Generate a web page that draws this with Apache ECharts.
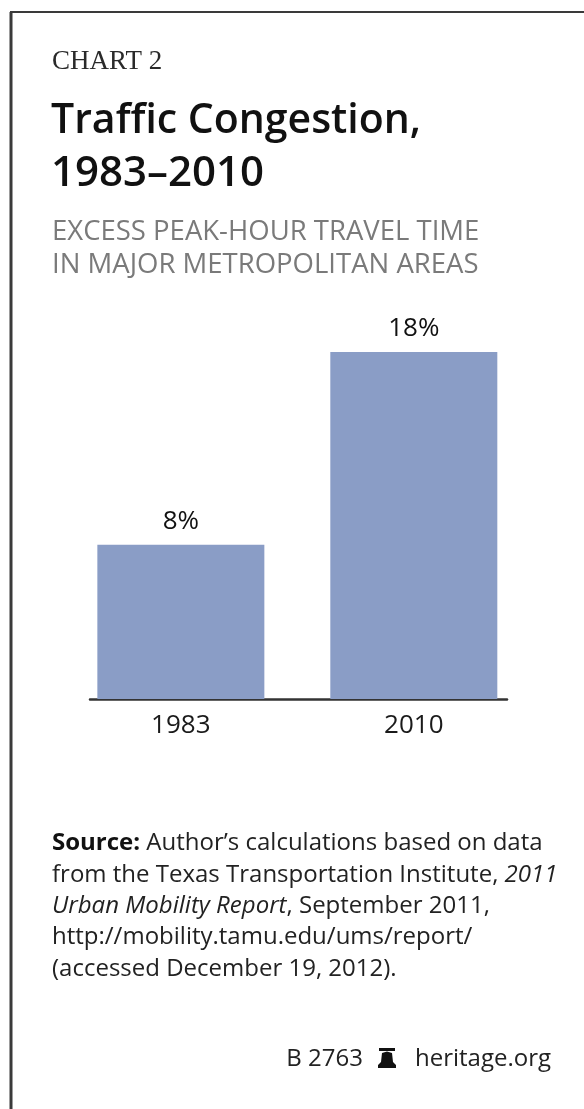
<!DOCTYPE html>
<html>
<head>
<meta charset="utf-8">
<title>Traffic Congestion, 1983–2010</title>
<script src="https://cdn.jsdelivr.net/npm/echarts@6/dist/echarts.min.js"></script>
<style>
  html, body { margin: 0; padding: 0; background: #ffffff; }
  #chart { width: 584px; height: 1109px; }
</style>
</head>
<body>
<div id="chart"></div>
<script>
// Excess peak-hour travel time, share of free-flow time
const categories = ['1983', '2010'];
const values = [8, 18];
const valueLabels = ['8%', '18%'];

const SANS = '"Open Sans", "Noto Sans", sans-serif';
const SERIF = '"Liberation Serif", "DejaVu Serif", serif';

// bars sit on a value axis at positions 0, 1 so the baseline can run a little past them
const barData = values.map((v, i) => [i, v]);

const chart = echarts.init(document.getElementById('chart'), null, { renderer: 'canvas' });

const sourceText =
  '{b|Source:} Author’s calculations based on data\n' +
  'from the Texas Transportation Institute, {i|2011}\n' +
  '{i|Urban Mobility Report}, September 2011,\n' +
  'http://mobility.tamu.edu/ums/report/\n' +
  '(accessed December 19, 2012).';

chart.setOption({
  backgroundColor: '#ffffff',
  animation: false,
  grid: { left: 90, right: 77, top: 352, bottom: 410, containLabel: false },
  xAxis: {
    type: 'value',
    min: -0.39,
    max: 1.40,
    splitLine: { show: false },
    axisTick: { show: false },
    axisLine: { show: true, onZero: true, lineStyle: { color: '#333333', width: 2.5 } },
    axisLabel: {
      customValues: [0, 1],
      formatter: v => categories[Math.round(v)] || '',
      fontFamily: SANS,
      fontSize: 26,
      color: '#1a1a1a',
      margin: 14
    }
  },
  yAxis: {
    type: 'value',
    min: 0,
    max: 18,
    show: false,
    splitLine: { show: false }
  },
  series: [{
    type: 'bar',
    data: barData,
    barWidth: 167,
    itemStyle: { color: '#8a9dc6' },
    label: {
      show: true,
      position: 'top',
      distance: 10,
      formatter: p => valueLabels[p.dataIndex],
      fontFamily: SANS,
      fontSize: 26,
      fontWeight: 500,
      color: '#111111'
    }
  }],
  graphic: [
    // frame
    { type: 'line', shape: { x1: 11, y1: 12, x2: 11, y2: 1109 }, style: { stroke: '#3a3a3a', lineWidth: 3 } },
    { type: 'line', shape: { x1: 10, y1: 12, x2: 584, y2: 12 }, style: { stroke: '#3a3a3a', lineWidth: 2 } },
    // headings
    { type: 'text', x: 52, y: 62, style: { text: 'CHART 2', font: '27px ' + SERIF, fill: '#2a2a2a', textVerticalAlign: 'middle' } },
    { type: 'text', x: 51, y: 121, style: { text: 'Traffic Congestion,', font: '600 41px ' + SANS, fill: '#111111', textVerticalAlign: 'middle' } },
    { type: 'text', x: 51, y: 174, style: { text: '1983–2010', font: '600 42px ' + SANS, fill: '#111111', textVerticalAlign: 'middle' } },
    { type: 'text', x: 52, y: 232, style: { text: 'EXCESS PEAK-HOUR TRAVEL TIME', font: '500 27.5px ' + SANS, fill: '#7a7a7a', textVerticalAlign: 'middle' } },
    { type: 'text', x: 52, y: 265, style: { text: 'IN MAJOR METROPOLITAN AREAS', font: '500 27.5px ' + SANS, fill: '#7a7a7a', textVerticalAlign: 'middle' } },
    // source note
    {
      type: 'text', x: 52, y: 828,
      style: {
        text: sourceText,
        fontFamily: SANS, fontSize: 24, lineHeight: 31.3, fill: '#222222',
        rich: {
          b: { fontFamily: SANS, fontSize: 24, fontWeight: 'bold', lineHeight: 31.3, fill: '#111111' },
          i: { fontFamily: SANS, fontSize: 24, fontStyle: 'italic', lineHeight: 31.3, fill: '#222222' }
        }
      }
    },
    // footer
    { type: 'text', x: 363, y: 1059, style: { text: 'B 2763', font: '24px ' + SANS, fill: '#222222', textAlign: 'right', textVerticalAlign: 'middle' } },
    {
      type: 'group', x: 377, y: 1048,
      children: [
        { type: 'rect', shape: { x: 2, y: 0, width: 16, height: 3 }, style: { fill: '#111111' } },
        { type: 'polygon', shape: { points: [[5, 5], [10, 3.5], [15, 5], [16, 14], [19, 17], [19, 20], [1, 20], [1, 17], [4, 14]] }, style: { fill: '#111111' } }
      ]
    },
    { type: 'text', x: 415, y: 1059, style: { text: 'heritage.org', font: '24px ' + SANS, fill: '#222222', textVerticalAlign: 'middle' } }
  ]
});
</script>
</body>
</html>
